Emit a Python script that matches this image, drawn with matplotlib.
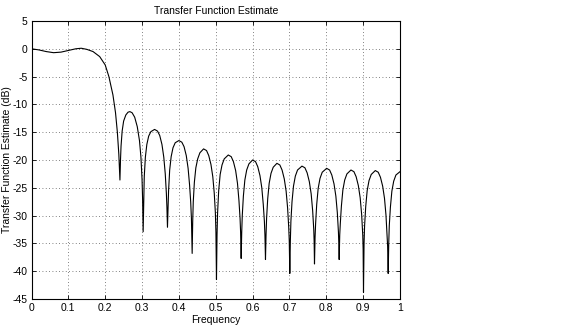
import matplotlib
matplotlib.use('Agg')
import matplotlib.pyplot as plt

plt.rcParams['font.family'] = ['Liberation Sans', 'DejaVu Sans']
plt.rcParams['axes.unicode_minus'] = False

# frequency (normalised) and magnitude in dB
freq = [
    0.000, 0.020, 0.040, 0.060, 0.080, 0.100, 0.120, 0.135, 0.150, 0.167,
    0.185, 0.200, 0.210, 0.221, 0.228, 0.233, 0.237, 0.240,
    0.2415, 0.243, 0.246, 0.250, 0.256, 0.262, 0.267, 0.273, 0.280, 0.287,
    0.293, 0.297, 0.300, 0.3015, 0.303,
    0.3045, 0.306, 0.309, 0.313, 0.318, 0.324, 0.334, 0.342, 0.348, 0.354,
    0.359, 0.363, 0.366, 0.3675, 0.369,
    0.3705, 0.372, 0.375, 0.379, 0.384, 0.390, 0.400, 0.408, 0.414, 0.420,
    0.425, 0.429, 0.432, 0.434, 0.436,
    0.4375, 0.439, 0.442, 0.446, 0.451, 0.457, 0.467, 0.475, 0.481, 0.487,
    0.492, 0.496, 0.499, 0.5005, 0.502,
    0.5035, 0.505, 0.508, 0.512, 0.517, 0.523, 0.534, 0.542, 0.548, 0.554,
    0.559, 0.563, 0.566, 0.5675, 0.569,
    0.5705, 0.572, 0.575, 0.579, 0.584, 0.590, 0.600, 0.608, 0.614, 0.620,
    0.625, 0.629, 0.632, 0.6335, 0.635,
    0.6365, 0.638, 0.641, 0.645, 0.650, 0.656, 0.666, 0.674, 0.680, 0.686,
    0.691, 0.695, 0.698, 0.6995, 0.701,
    0.7025, 0.704, 0.707, 0.711, 0.716, 0.722, 0.734, 0.742, 0.748, 0.754,
    0.759, 0.763, 0.766, 0.767, 0.768,
    0.7695, 0.771, 0.774, 0.778, 0.783, 0.789, 0.801, 0.809, 0.815, 0.821,
    0.826, 0.830, 0.833, 0.834, 0.835,
    0.8365, 0.838, 0.841, 0.845, 0.850, 0.856, 0.867, 0.875, 0.881, 0.887,
    0.892, 0.896, 0.899, 0.900, 0.901,
    0.9025, 0.904, 0.907, 0.911, 0.916, 0.922, 0.933, 0.941, 0.947, 0.953,
    0.958, 0.962, 0.965, 0.9665, 0.968,
    0.9695, 0.971, 0.974, 0.978, 0.983, 0.989, 1.000,
]
mag_db = [
    0.0, -0.2, -0.5, -0.7, -0.6, -0.3, 0.0, 0.1, -0.1, -0.5,
    -1.4, -2.9, -5.0, -8.3, -11.5, -15.0, -19.0, -23.6,
    -20.0, -17.5, -14.8, -13.0, -11.9, -11.4, -11.3, -11.5, -12.3, -14.0,
    -16.5, -19.5, -23.5, -27.0, -32.9,
    -27.5, -23.0, -19.5, -17.2, -15.7, -14.9, -14.5, -14.8, -15.6, -17.2,
    -19.5, -22.5, -26.0, -28.5, -32.1,
    -28.5, -25.5, -21.8, -19.4, -17.8, -16.9, -16.5, -16.8, -17.6, -19.2,
    -21.5, -24.5, -27.5, -30.5, -36.8,
    -31.0, -27.5, -24.0, -21.4, -19.8, -18.7, -18.0, -18.3, -19.2, -20.8,
    -23.0, -26.0, -29.5, -33.0, -41.5,
    -33.5, -29.5, -25.5, -22.6, -20.9, -19.8, -19.1, -19.4, -20.3, -21.9,
    -24.2, -27.3, -30.5, -33.0, -37.7,
    -33.0, -30.0, -26.5, -23.6, -21.8, -20.7, -20.0, -20.3, -21.2, -22.8,
    -25.0, -28.0, -31.0, -33.5, -37.9,
    -33.5, -30.5, -27.0, -24.2, -22.4, -21.3, -20.6, -20.9, -21.8, -23.4,
    -25.6, -28.6, -32.0, -34.5, -40.4,
    -34.5, -31.0, -27.5, -24.7, -22.9, -21.8, -21.1, -21.4, -22.3, -23.9,
    -26.1, -29.1, -32.5, -34.5, -38.7,
    -34.0, -31.5, -28.0, -25.1, -23.3, -22.2, -21.5, -21.8, -22.7, -24.3,
    -26.5, -29.5, -33.0, -35.0, -37.9,
    -33.5, -31.5, -28.3, -25.4, -23.6, -22.5, -21.8, -22.1, -23.0, -24.6,
    -26.8, -29.8, -33.5, -36.0, -43.8,
    -35.0, -31.8, -28.4, -25.5, -23.7, -22.6, -21.9, -22.2, -23.1, -24.7,
    -26.9, -29.9, -33.5, -35.5, -40.4,
    -35.0, -31.8, -28.5, -25.6, -23.8, -22.7, -22.1,
]

xticks = [0, 0.1, 0.2, 0.3, 0.4, 0.5, 0.6, 0.7, 0.8, 0.9, 1]
xticklabels = ['0', '0.1', '0.2', '0.3', '0.4', '0.5', '0.6', '0.7', '0.8', '0.9', '1']
yticks = [5, 0, -5, -10, -15, -20, -25, -30, -35, -40, -45]

fig = plt.figure(figsize=(5.76, 3.27), dpi=100)
ax = fig.add_axes([0.0547, 0.0856, 0.6397, 0.8502])

ax.plot(freq, mag_db, color='k', linewidth=0.8)

ax.set_xlim(0, 1)
ax.set_ylim(-45, 5)
ax.set_xticks(xticks)
ax.set_xticklabels(xticklabels)
ax.set_yticks(yticks)
ax.tick_params(direction='in', top=True, right=True, labelsize=7.5,
               length=3, width=0.6, pad=3)
ax.grid(True, color='0.35', linestyle=(0, (1, 3)), linewidth=0.6)
for s in ax.spines.values():
    s.set_linewidth(0.8)

ax.set_title('Transfer Function Estimate', fontsize=7.5, pad=5)
ax.set_xlabel('Frequency', fontsize=7.5, labelpad=1)
ax.set_ylabel('Transfer Function Estimate (dB)', fontsize=7.5)
ax.yaxis.set_label_coords(-0.052, 0.5)

fig.savefig('out.png', dpi=100)
